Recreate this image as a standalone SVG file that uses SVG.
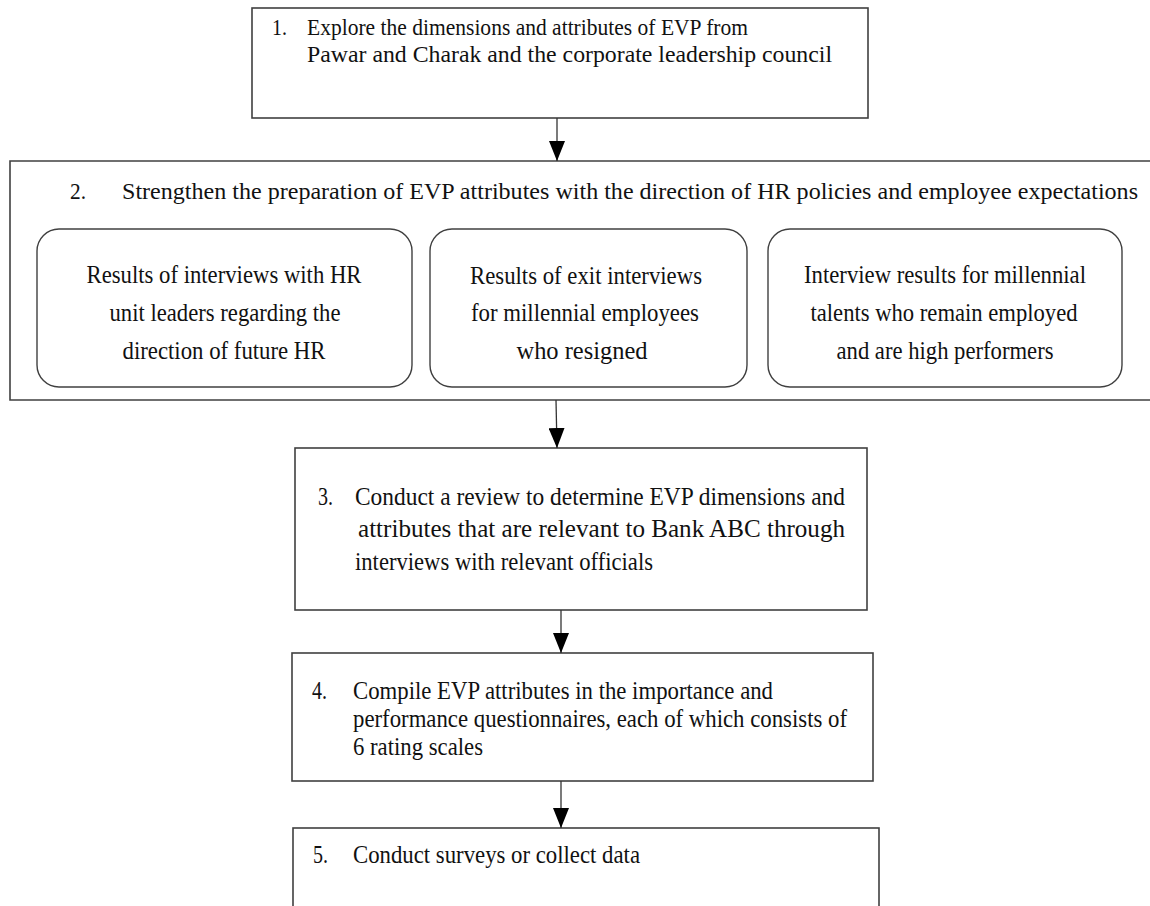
<svg xmlns="http://www.w3.org/2000/svg" width="1150" height="906" viewBox="0 0 1150 906">
<style>
.box{fill:#fff;stroke:#404040;stroke-width:1.6}
.rbox{fill:#fff;stroke:#404040;stroke-width:1.4}
text{font-family:"Liberation Serif","Times New Roman",serif;font-size:26px;fill:#111}
.s{font-size:24px}
.h{font-size:23.5px}
.c{text-anchor:middle}
.con{stroke:#333;stroke-width:1.3;fill:none}
</style>
<defs>
<marker id="ah" viewBox="0 0 20 16" refX="20" refY="8" markerWidth="20" markerHeight="16" markerUnits="userSpaceOnUse" orient="auto">
<path d="M0,0 L20,8 L0,16 z" fill="#000"/>
</marker>
</defs>
<rect width="1150" height="906" fill="#fff"/>
<g id="n1">
<rect class="box" x="252" y="8" width="616" height="110"/>
<text class="s" x="272" y="35" textLength="15" lengthAdjust="spacingAndGlyphs">1.</text>
<text class="s" x="307" y="35" textLength="441" lengthAdjust="spacingAndGlyphs">Explore the  dimensions and  attributes of EVP from</text>
<text class="s" x="307" y="62" textLength="525" lengthAdjust="spacingAndGlyphs">Pawar and Charak and the  corporate  leadership  council</text>
</g>
<g id="n2">
<path class="box" d="M1150,161 H10 V400 H1150"/>
<text class="h" x="70" y="199" textLength="16" lengthAdjust="spacingAndGlyphs">2.</text>
<text class="h" x="122" y="199" textLength="1016" lengthAdjust="spacingAndGlyphs">Strengthen the preparation of EVP attributes with the direction of HR policies and employee expectations</text>
</g>
<g id="n2a">
<rect class="rbox" x="37" y="229" width="375" height="158" rx="22" ry="22"/>
<text class="c" x="224" y="283" textLength="275" lengthAdjust="spacingAndGlyphs">Results of interviews with HR</text>
<text class="c" x="225" y="321" textLength="231" lengthAdjust="spacingAndGlyphs">unit leaders regarding the</text>
<text class="c" x="224" y="359" textLength="203" lengthAdjust="spacingAndGlyphs">direction of future HR</text>
</g>
<g id="n2b">
<rect class="rbox" x="430" y="229" width="317" height="158" rx="22" ry="22"/>
<text class="c" x="586" y="284" textLength="232" lengthAdjust="spacingAndGlyphs">Results of exit interviews</text>
<text class="c" x="585" y="321" textLength="228" lengthAdjust="spacingAndGlyphs">for millennial employees</text>
<text class="c" x="582" y="359" textLength="131" lengthAdjust="spacingAndGlyphs">who resigned</text>
</g>
<g id="n2c">
<rect class="rbox" x="768" y="229" width="354" height="158" rx="22" ry="22"/>
<text class="c" x="945" y="283" textLength="282" lengthAdjust="spacingAndGlyphs">Interview results for millennial</text>
<text class="c" x="944" y="321" textLength="267" lengthAdjust="spacingAndGlyphs">talents who remain employed</text>
<text class="c" x="945" y="359" textLength="217" lengthAdjust="spacingAndGlyphs">and are high performers</text>
</g>
<g id="n3">
<rect class="box" x="295" y="448" width="572" height="162"/>
<text x="318" y="505" textLength="15" lengthAdjust="spacingAndGlyphs">3.</text>
<text x="355" y="505" textLength="490" lengthAdjust="spacingAndGlyphs">Conduct a review to determine EVP  dimensions and</text>
<text x="358" y="537" textLength="487" lengthAdjust="spacingAndGlyphs">attributes  that  are  relevant  to  Bank  ABC  through</text>
<text x="355" y="570" textLength="298" lengthAdjust="spacingAndGlyphs">interviews with relevant officials</text>
</g>
<g id="n4">
<rect class="box" x="292" y="653" width="581" height="128"/>
<text x="312" y="699" textLength="15" lengthAdjust="spacingAndGlyphs">4.</text>
<text x="353" y="699" textLength="420" lengthAdjust="spacingAndGlyphs">Compile EVP attributes in the importance and</text>
<text x="353" y="727" textLength="494" lengthAdjust="spacingAndGlyphs">performance questionnaires, each of which consists of</text>
<text x="353" y="755" textLength="130" lengthAdjust="spacingAndGlyphs">6 rating scales</text>
</g>
<g id="n5">
<rect class="box" x="293" y="828" width="586" height="90"/>
<text x="313" y="863" textLength="15" lengthAdjust="spacingAndGlyphs">5.</text>
<text x="353" y="863" textLength="287" lengthAdjust="spacingAndGlyphs">Conduct surveys or collect data</text>
</g>
<g id="connectors">
<line class="con" x1="557" y1="118" x2="557" y2="161" marker-end="url(#ah)"/>
<line class="con" x1="556" y1="400" x2="557" y2="448" marker-end="url(#ah)"/>
<line class="con" x1="561" y1="610" x2="561" y2="653" marker-end="url(#ah)"/>
<line class="con" x1="561" y1="781" x2="561" y2="828" marker-end="url(#ah)"/>
</g>
</svg>
